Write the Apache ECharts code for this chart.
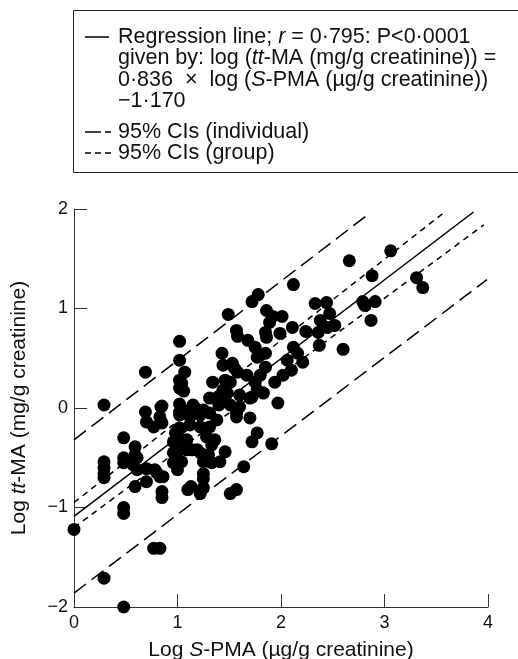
<!DOCTYPE html>
<html><head><meta charset="utf-8">
<script src="https://cdn.jsdelivr.net/npm/echarts@6/dist/echarts.min.js"></script>
<style>html,body{margin:0;padding:0;background:#fff}#c{width:518px;height:659px}</style>
</head><body><div id="c"></div>
<script>
// Scatter points [log S-PMA, log tt-MA]
var points = [
[0.00,-1.22],[0.29,0.03],[0.29,-0.54],[0.29,-0.60],[0.29,-0.66],[0.29,-0.70],[0.29,-1.71],
[0.48,-0.30],[0.48,-0.50],[0.48,-0.55],[0.48,-1.00],[0.48,-1.06],[0.48,-2.00],
[0.59,-0.39],[0.59,-0.47],[0.57,-0.57],[0.61,-0.62],[0.59,-0.79],[0.61,-0.50],
[0.69,0.36],[0.69,-0.04],[0.70,-0.14],[0.77,-0.19],[0.70,-0.61],[0.70,-0.74],[0.78,-0.62],
[0.83,-0.69],[0.77,-1.41],[0.83,-1.41],[0.84,0.01],[0.83,-0.09],[0.85,-0.15],[0.85,-0.84],
[0.85,-0.90],[0.86,-0.69],[0.80,-0.65],[0.85,0.02],
[1.02,0.67],[1.02,0.48],[1.07,0.36],[1.02,0.28],[1.02,0.20],[1.02,0.04],[1.02,-0.04],
[1.02,-0.07],[1.02,-0.20],[0.98,-0.25],[1.00,-0.22],[1.00,-0.29],[0.96,-0.34],[1.04,-0.35],
[1.00,-0.44],[0.96,-0.45],[1.00,-0.52],[1.04,-0.54],[0.96,-0.55],[1.00,-0.62],
[1.04,0.25],[1.06,0.17],[1.12,-0.02],[1.19,-0.02],[1.15,0.03],[1.12,-0.09],[1.12,-0.17],
[1.09,-0.32],[1.09,-0.42],[1.14,-0.42],[1.19,-0.42],[1.22,-0.45],[1.10,-0.82],[1.13,-0.79],
[1.22,-0.86],[1.22,-0.07],[1.22,-0.19],[1.25,-0.02],[1.25,-0.54],[1.25,-0.66],[1.25,-0.71],
[1.25,-0.80],
[1.28,-0.29],[1.30,-0.47],[1.33,-0.37],[1.33,-0.55],[1.36,-0.32],[1.31,0.10],[1.31,-0.05],
[1.31,-0.19],[1.34,0.26],[1.38,-0.12],[1.39,0.10],[1.40,0.03],[1.41,-0.54],[1.43,0.55],
[1.44,0.43],[1.44,0.18],[1.46,0.28],[1.46,0.11],[1.46,-0.44],[1.48,0.15],[1.49,0.94],
[1.51,0.26],[1.51,0.03],[1.51,-0.86],[1.53,0.45],[1.55,0.40],
[1.57,0.78],[1.58,0.72],[1.58,0.36],[1.57,-0.05],[1.57,-0.09],[1.57,-0.82],[1.60,0.13],
[1.60,0.01],[1.64,-0.59],[1.67,0.33],[1.68,0.68],[1.70,0.10],[1.70,-0.10],[1.72,1.07],
[1.72,0.11],[1.72,-0.34],[1.75,0.61],[1.75,0.26],[1.77,0.51],[1.77,0.18],[1.77,-0.25],
[1.78,1.14],[1.80,0.53],[1.80,0.33],[1.83,0.15],
[1.85,0.76],[1.86,0.98],[1.86,0.71],[1.85,0.55],[1.85,0.41],[1.89,0.86],[1.91,-0.36],
[1.92,0.92],[1.94,0.26],[1.97,0.05],[1.99,0.75],[2.01,0.92],[2.02,0.33],[2.06,0.48],
[2.10,0.38],[2.11,0.81],[2.12,1.24],[2.12,0.61],[2.16,0.55],[2.21,0.46],
[2.24,0.77],[2.33,1.05],[2.36,0.76],[2.37,0.63],[2.38,0.88],[2.44,1.06],[2.45,0.81],
[2.47,0.95],[2.52,0.83],[2.60,0.59],[2.66,1.48],[2.79,1.07],[2.81,1.03],[2.87,0.88],
[2.88,1.33],[2.91,1.07],[3.06,1.58],[3.31,1.31],[3.37,1.21]
];
var regressionLine = [[0,-1.09],[3.86,1.97]];
var ciIndividualUpper = [[0,-0.32],[2.86,1.96]];
var ciIndividualLower = [[0,-1.86],[3.99,1.29]];
var ciGroupUpper = [[0,-0.95],[3.57,1.96]];
var ciGroupLower = [[0,-1.20],[3.96,1.84]];
var xTicks = [0,1,2,3,4];
var yTicks = [-2,-1,0,1,2];

var F = 'Liberation Sans, Arial, sans-serif';
var chart = echarts.init(document.getElementById('c'));
function lineSeries(data, type) {
  return {type:'line', data:data, symbol:'none', silent:true, z:3,
    lineStyle:{color:'#000', width:1.5, type:type}};
}
var FS = 21.5;
var legendY = [37, 58.5, 80, 101.5];
var legendLines = ['{n|Regression line; }{i|r}{n| = 0·795: P<0·0001}',
  '{n|given by: log (}{i|tt}{n|-MA (mg/g creatinine)) =}',
  '{n|0·836  ×  log (}{i|S}{n|-PMA (µg/g creatinine))}',
  '{n|−1·170}'];
var rich = {n:{fontFamily:F, fontSize:FS, fill:'#111'}, i:{fontFamily:F, fontSize:FS, fontStyle:'italic', fill:'#111'}};
var graphics = [
  {type:'rect', shape:{x:73.5, y:10.5, width:470, height:162}, style:{fill:'none', stroke:'#222', lineWidth:1}}
];
legendLines.forEach(function(t,i){
  graphics.push({type:'text', x:118, y:legendY[i], style:{text:t, rich:rich, verticalAlign:'middle', fill:'#111', fontFamily:F, fontSize:FS}});
});
graphics.push({type:'text', x:118, y:132, style:{text:'95% CIs (individual)', verticalAlign:'middle', fill:'#111', fontFamily:F, fontSize:FS}});
graphics.push({type:'text', x:118, y:153, style:{text:'95% CIs (group)', verticalAlign:'middle', fill:'#111', fontFamily:F, fontSize:FS}});
graphics.push({type:'line', shape:{x1:85,y1:37,x2:109,y2:37}, style:{stroke:'#000', lineWidth:1.5}});
graphics.push({type:'line', shape:{x1:85,y1:132,x2:101,y2:132}, style:{stroke:'#000', lineWidth:1.5}});
graphics.push({type:'line', shape:{x1:105,y1:132,x2:111,y2:132}, style:{stroke:'#000', lineWidth:1.5}});
[85,95,105].forEach(function(x){
  graphics.push({type:'line', shape:{x1:x,y1:153,x2:x+6,y2:153}, style:{stroke:'#000', lineWidth:1.5}});
});
var nameRich = {n:{fontFamily:F,fontSize:21,color:'#111'}, i:{fontFamily:F,fontSize:21,fontStyle:'italic',color:'#111'}};

chart.setOption({
  animation:false,
  backgroundColor:'#fff',
  grid:{left:74, right:30, top:209, bottom:52, containLabel:false, outerBoundsMode:'none'},
  xAxis:{type:'value', min:0, max:4, interval:1,
    name:'{n|Log }{i|S}{n|-PMA (µg/g creatinine)}', nameLocation:'middle', nameGap:33,
    nameTextStyle:{rich:nameRich},
    axisLine:{onZero:false, lineStyle:{color:'#333', width:1}},
    axisTick:{inside:true, length:13, lineStyle:{color:'#333'}},
    axisLabel:{margin:7, fontFamily:F, fontSize:18, color:'#111', formatter:function(v){return xTicks.indexOf(v)>=0?String(v):'';}},
    splitLine:{show:false}},
  yAxis:{type:'value', min:-2, max:2, interval:1,
    name:'{n|Log }{i|tt}{n|-MA (mg/g creatinine)}', nameLocation:'middle', nameGap:44, nameRotate:90,
    nameTextStyle:{rich:nameRich},
    axisLine:{show:true, onZero:false, lineStyle:{color:'#333', width:1}},
    axisTick:{show:true, inside:true, length:13, lineStyle:{color:'#333'}},
    axisLabel:{margin:6, fontFamily:F, fontSize:18, color:'#111', formatter:function(v){return yTicks.indexOf(v)>=0?(v<0?'−'+Math.abs(v):String(v)):'';}},
    splitLine:{show:false}},
  graphic:graphics,
  series:[
    {type:'scatter', data:points, symbol:'circle', symbolSize:13, itemStyle:{color:'#000', opacity:1}, z:4, clip:false},
    lineSeries(regressionLine,'solid'),
    lineSeries(ciIndividualUpper,[15,7]),
    lineSeries(ciIndividualLower,[15,7]),
    lineSeries(ciGroupUpper,[6,5]),
    lineSeries(ciGroupLower,[6,5])
  ]
});
</script></body></html>
